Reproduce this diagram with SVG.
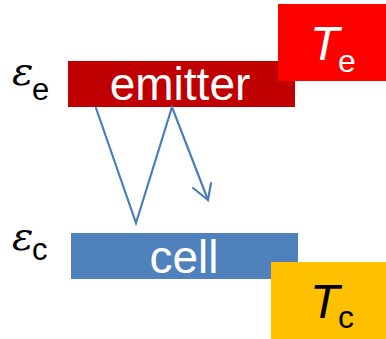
<svg xmlns="http://www.w3.org/2000/svg" width="386" height="339" viewBox="0 0 386 339">
<style>
.lbl{font-family:"Liberation Sans",Arial,sans-serif;fill:#fff}
.big{font-size:46px;text-anchor:middle}
.eps{font-family:"DejaVu Serif","Liberation Serif",serif;font-style:italic;font-size:40px;fill:#000}
.sub{font-family:"Liberation Sans",Arial,sans-serif;font-size:31px;fill:#000}
.T{font-family:"Liberation Sans",Arial,sans-serif;font-style:italic;font-size:48px}
.Ts{font-family:"Liberation Sans",Arial,sans-serif;font-size:32px}
.conn{fill:none;stroke:#4A7EBB;stroke-width:2.2;stroke-linejoin:miter;stroke-linecap:round}
</style>
<rect width="386" height="339" fill="#fff"/>
<g id="emitter">
<rect x="68" y="61" width="227" height="46" fill="#C00000"/>
<text class="lbl big" x="180" y="100">emitter</text>
</g>
<g id="Te">
<rect x="278" y="4" width="108" height="77" fill="#FF0000"/>
<text class="T" x="310" y="60" fill="#fff">T</text>
<text class="Ts" x="338" y="72" fill="#fff">e</text>
</g>
<g id="eps-e">
<text class="eps" x="12" y="85">ε</text>
<text class="sub" x="32" y="100">e</text>
</g>
<g id="cell">
<rect x="71" y="233" width="227" height="46" fill="#4F81BD"/>
<text class="lbl big" x="184" y="273">cell</text>
</g>
<g id="Tc">
<rect x="271" y="262" width="115" height="77" fill="#FFC000"/>
<text class="T" x="310" y="318" fill="#000">T</text>
<text class="Ts" x="338" y="328" fill="#000">c</text>
</g>
<g id="eps-c">
<text class="eps" x="12" y="250">ε</text>
<text class="sub" x="32" y="260">c</text>
</g>
<g id="connectors">
<polyline class="conn" points="96,108 136,223 172,107 208,200"/>
<polyline class="conn" points="193,188 208,200 211,183"/>
</g>
</svg>
